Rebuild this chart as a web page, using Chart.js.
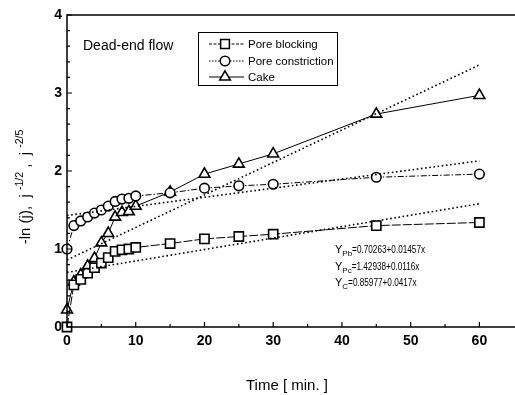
<!DOCTYPE html>
<html>
<head>
<meta charset="utf-8">
<script src="https://cdn.jsdelivr.net/npm/chart.js@4/dist/chart.umd.min.js"></script>
<style>
  html, body { margin: 0; padding: 0; background: #fff; }
  #wrap { width: 515px; height: 395px; }
</style>
</head>
<body>
<div id="wrap"><canvas id="chart" width="515" height="395"></canvas></div>
<script>
'use strict';

// time in minutes
var time = [0, 1, 2, 3, 4, 5, 6, 7, 8, 9, 10, 15, 20, 25, 30, 45, 60];
var poreBlocking = [0, 0.54, 0.61, 0.69, 0.76, 0.82, 0.89, 0.97, 0.99, 1.0, 1.02, 1.07, 1.13, 1.16, 1.19, 1.30, 1.34];
var poreConstriction = [1.0, 1.30, 1.36, 1.41, 1.46, 1.50, 1.55, 1.61, 1.64, 1.65, 1.68, 1.72, 1.78, 1.81, 1.83, 1.92, 1.96];
var cake = [0.22, 0.58, 0.67, 0.78, 0.88, 1.08, 1.20, 1.41, 1.47, 1.48, 1.55, 1.73, 1.96, 2.09, 2.22, 2.73, 2.97];

// fitted lines, end points at t = 0 and t = 60
var fitTime = [0, 60];
var fitPb = [0.70, 1.58];
var fitPc = [1.43, 2.13];
var fitC = [0.86, 3.36];

var seriesNames = ['Pore blocking', 'Pore constriction', 'Cake'];
var equations = [
  ['Pb', '=0.70263+0.01457x'],
  ['Pc', '=1.42938+0.0116x'],
  ['C', '=0.85977+0.0417x']
];
var xTicks = [0, 10, 20, 30, 40, 50, 60];
var yTicks = [0, 1, 2, 3, 4];

function pts(xs, ys) {
  var out = [];
  for (var i = 0; i < xs.length; i++) {
    out.push({x: xs[i], y: ys[i]});
  }
  return out;
}

var FONT = '"Liberation Sans", Arial, sans-serif';

function fitSet(data) {
  return {
    data: pts(fitTime, data),
    borderColor: '#000',
    borderWidth: 1.6,
    borderDash: [1.6, 2.6],
    pointRadius: 0,
    showLine: true,
    fill: false,
    clip: false
  };
}

function dataSet(label, ys, style, radius, dash) {
  return {
    label: label,
    data: pts(time, ys),
    borderColor: '#000',
    borderWidth: 1,
    borderDash: dash,
    pointStyle: style,
    pointRadius: radius,
    pointBorderWidth: 1.6,
    pointBackgroundColor: '#fff',
    pointBorderColor: '#000',
    showLine: true,
    fill: false,
    clip: false
  };
}

var datasets = [
  fitSet(fitPb),
  fitSet(fitPc),
  fitSet(fitC),
  dataSet(seriesNames[0], poreBlocking, 'rect', 6.5, [9, 2]),
  dataSet(seriesNames[1], poreConstriction, 'circle', 4.8, [6, 2, 1.5, 2]),
  dataSet(seriesNames[2], cake, 'triangle', 6.2, [])
];

function marker(ctx, style, x, y, r) {
  ctx.beginPath();
  if (style === 'rect') {
    var s = Math.SQRT1_2 * r;
    ctx.rect(x - s, y - s, 2 * s, 2 * s);
  } else if (style === 'circle') {
    ctx.arc(x, y, r, 0, Math.PI * 2);
  } else {
    ctx.moveTo(x, y - r);
    ctx.lineTo(x + r * Math.cos(Math.PI / 6), y + r * 0.5);
    ctx.lineTo(x - r * Math.cos(Math.PI / 6), y + r * 0.5);
    ctx.closePath();
  }
  ctx.fillStyle = '#fff';
  ctx.fill();
  ctx.lineWidth = 1.5;
  ctx.strokeStyle = '#000';
  ctx.stroke();
}

var decorations = {
  id: 'decorations',
  afterDraw: function(chart) {
    var ctx = chart.ctx;
    var xs = chart.scales.x;
    var ys = chart.scales.y;
    var a = chart.chartArea;
    ctx.save();
    ctx.strokeStyle = '#000';
    ctx.fillStyle = '#000';
    ctx.setLineDash([]);

    // frame: left, bottom and top
    ctx.lineWidth = 1.5;
    ctx.beginPath();
    ctx.moveTo(515, a.top);
    ctx.lineTo(a.left, a.top);
    ctx.lineTo(a.left, a.bottom);
    ctx.lineTo(515, a.bottom);
    ctx.stroke();

    // inward ticks
    ctx.lineWidth = 1.2;
    ctx.beginPath();
    for (var v = 0; v <= 4.001; v += 0.2) {
      var py = ys.getPixelForValue(v);
      var major = Math.abs(v - Math.round(v)) < 0.01;
      ctx.moveTo(a.left, py);
      ctx.lineTo(a.left + (major ? 5 : 3), py);
    }
    for (var t = 0; t <= 64; t += 5) {
      var px = xs.getPixelForValue(t);
      ctx.moveTo(px, a.bottom);
      ctx.lineTo(px, a.bottom - (t % 10 === 0 ? 5 : 3));
    }
    ctx.stroke();

    // Dead-end flow
    ctx.font = '14px ' + FONT;
    ctx.textBaseline = 'alphabetic';
    ctx.textAlign = 'left';
    ctx.fillText('Dead-end flow', 83, 50);

    // legend box
    ctx.lineWidth = 1;
    ctx.strokeRect(198.5, 32.5, 139, 53);
    ctx.font = '11.5px ' + FONT;
    ctx.textBaseline = 'middle';
    var rowY = [44, 61, 77];
    for (var i = 0; i < 3; i++) {
      var ds = chart.data.datasets[i + 3];
      ctx.beginPath();
      ctx.setLineDash(i === 2 ? [] : (i === 0 ? [3, 1.5] : [1.5, 1.5]));
      ctx.lineWidth = 1;
      ctx.moveTo(209, rowY[i]);
      ctx.lineTo(244, rowY[i]);
      ctx.stroke();
      ctx.setLineDash([]);
      marker(ctx, ds.pointStyle, 225, rowY[i], ds.pointStyle === 'circle' ? 4.8 : 6.2);
      ctx.fillStyle = '#000';
      ctx.fillText(ds.label, 248, rowY[i] + 0.5);
    }

    // equations
    var eqY = [253, 270, 286];
    for (var k = 0; k < equations.length; k++) {
      ctx.textBaseline = 'alphabetic';
      ctx.font = '11px ' + FONT;
      ctx.fillText('Y', 335, eqY[k]);
      var w = ctx.measureText('Y').width;
      ctx.font = '8px ' + FONT;
      ctx.fillText(equations[k][0], 335 + w, eqY[k] + 3);
      var w2 = ctx.measureText(equations[k][0]).width;
      ctx.font = '10px ' + FONT;
      ctx.save();
      ctx.translate(335 + w + w2, eqY[k]);
      ctx.scale(0.82, 1);
      ctx.fillText(equations[k][1], 0, 0);
      ctx.restore();
    }

    // y axis title with superscripts
    ctx.save();
    ctx.translate(30, 187);
    ctx.rotate(-Math.PI / 2);
    var parts = [
      ['-ln (j),  j ', 15, 0],
      ['-1/2', 10.5, -7],
      [' ,  j ', 15, 0],
      ['-2/5', 10.5, -7]
    ];
    var total = 0;
    for (var p = 0; p < parts.length; p++) {
      ctx.font = parts[p][1] + 'px ' + FONT;
      total += ctx.measureText(parts[p][0]).width;
    }
    var cx = -total / 2;
    ctx.textAlign = 'left';
    ctx.textBaseline = 'alphabetic';
    for (var q = 0; q < parts.length; q++) {
      ctx.font = parts[q][1] + 'px ' + FONT;
      ctx.fillText(parts[q][0], cx, parts[q][2]);
      cx += ctx.measureText(parts[q][0]).width;
    }
    ctx.restore();

    ctx.restore();
  }
};

var ctx = document.getElementById('chart').getContext('2d');

var chart = new Chart(ctx, {
  type: 'scatter',
  data: { datasets: datasets },
  options: {
    responsive: false,
    animation: false,
    events: [],
    layout: { padding: { top: 15, right: 0, left: 0, bottom: 0 } },
    plugins: {
      legend: { display: false },
      tooltip: { enabled: false }
    },
    scales: {
      x: {
        type: 'linear',
        min: 0,
        max: 64,
        grid: { display: false, drawTicks: false },
        border: { display: false },
        afterFit: function(scale) { scale.height = 68; },
        afterBuildTicks: function(scale) {
          scale.ticks = xTicks.map(function(v) { return {value: v}; });
        },
        ticks: {
          color: '#000',
          font: { family: FONT, size: 14, weight: 'bold' },
          padding: 6,
          maxRotation: 0
        },
        title: {
          display: true,
          text: 'Time [ min. ]',
          color: '#000',
          font: { family: FONT, size: 15 },
          padding: { top: 24, bottom: 0 }
        }
      },
      y: {
        type: 'linear',
        min: 0,
        max: 4,
        grid: { display: false, drawTicks: false },
        border: { display: false },
        afterFit: function(scale) { scale.width = 67; },
        afterBuildTicks: function(scale) {
          scale.ticks = yTicks.map(function(v) { return {value: v}; });
        },
        ticks: {
          color: '#000',
          font: { family: FONT, size: 14, weight: 'bold' },
          padding: 5
        }
      }
    }
  },
  plugins: [decorations]
});
</script>
</body>
</html>
